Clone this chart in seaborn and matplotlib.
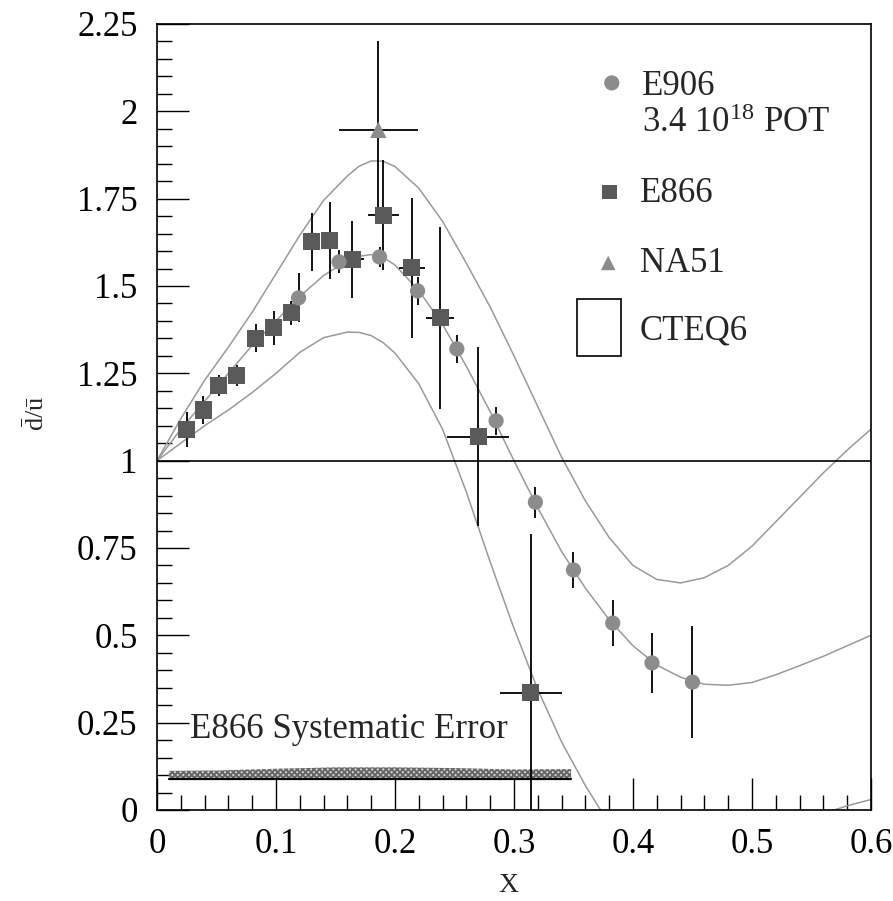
import numpy as np
import pandas as pd
import matplotlib
matplotlib.use('Agg')
import matplotlib.pyplot as plt
import seaborn as sns
from matplotlib.patches import Rectangle
from matplotlib.ticker import MultipleLocator

# E866 (squares)
e866_x = [0.025, 0.039, 0.052, 0.067, 0.083, 0.098, 0.113, 0.130, 0.145, 0.164,
          0.190, 0.214, 0.238, 0.270, 0.314]
e866_y = [1.088, 1.145, 1.214, 1.245, 1.351, 1.380, 1.423, 1.626, 1.629, 1.577,
          1.703, 1.552, 1.409, 1.069, 0.335]
e866_ey = [0.05, 0.04, 0.03, 0.03, 0.04, 0.048, 0.035, 0.084, 0.11, 0.11,
           0.157, 0.20, 0.26, 0.255, 0.455]
e866_ex = [0, 0, 0, 0, 0, 0, 0, 0, 0, 0.01,
           0.013, 0.011, 0.012, 0.026, 0.026]

# E906 projection (circles)
e906_x = [0.119, 0.153, 0.187, 0.219, 0.252, 0.285, 0.318, 0.350, 0.383, 0.416, 0.450]
e906_y = [1.466, 1.569, 1.583, 1.486, 1.320, 1.114, 0.881, 0.687, 0.535, 0.421, 0.366]
e906_ey = [0.07, 0.033, 0.03, 0.04, 0.04, 0.04, 0.045, 0.052, 0.065, 0.087, 0.16]

# NA51 (triangle)
na51_x = [0.186]
na51_y = [1.947]
na51_ey = [0.255]
na51_ex = [0.033]

# CTEQ6 curves
cteq_x = [0.0, 0.02, 0.04, 0.06, 0.08, 0.10, 0.12, 0.14, 0.16, 0.17, 0.18, 0.19, 0.20,
          0.22, 0.24, 0.26, 0.28, 0.30, 0.32, 0.34, 0.36, 0.38, 0.40, 0.42, 0.44,
          0.46, 0.48, 0.50, 0.52, 0.54, 0.56, 0.58, 0.60]
cteq_up = [1.0, 1.12, 1.23, 1.325, 1.425, 1.535, 1.645, 1.745, 1.815, 1.843, 1.858, 1.857,
           1.842, 1.78, 1.685, 1.565, 1.44, 1.30, 1.155, 1.01, 0.885, 0.78, 0.70, 0.66,
           0.65, 0.665, 0.70, 0.755, 0.825, 0.895, 0.965, 1.03, 1.09]
cteq_mid = [1.0, 1.09, 1.17, 1.25, 1.33, 1.40, 1.47, 1.53, 1.572, 1.585, 1.59, 1.582,
            1.56, 1.487, 1.39, 1.27, 1.14, 1.00, 0.865, 0.74, 0.635, 0.545, 0.47, 0.415,
            0.38, 0.36, 0.357, 0.365, 0.387, 0.413, 0.44, 0.47, 0.50]
cteq_lo = [1.0, 1.05, 1.10, 1.145, 1.195, 1.25, 1.31, 1.352, 1.368, 1.367, 1.358, 1.338,
           1.308, 1.22, 1.09, 0.91, 0.71, 0.52, 0.345, 0.195, 0.07, -0.04, -0.12, -0.18,
           -0.21, -0.2, -0.16, -0.11, -0.07, -0.035, -0.01, 0.012, 0.03]

# E866 systematic error band
sys_x = [0.01, 0.05, 0.10, 0.15, 0.20, 0.25, 0.30, 0.348]
sys_lo = [0.088, 0.088, 0.088, 0.088, 0.088, 0.088, 0.088, 0.088]
sys_hi = [0.112, 0.113, 0.118, 0.122, 0.122, 0.120, 0.116, 0.117]

sns.set_theme(style='ticks')
plt.rcParams['font.family'] = ['Liberation Serif', 'DejaVu Serif']
plt.rcParams['mathtext.fontset'] = 'custom'
plt.rcParams['mathtext.rm'] = 'Liberation Serif'
plt.rcParams['mathtext.it'] = 'Liberation Serif:italic'
plt.rcParams['hatch.linewidth'] = 1.4
plt.rcParams['hatch.color'] = '#666666'

c_e906 = '#8c8c8c'
c_e866 = '#5a5a5a'
c_curve = '#9a9a9a'

fig = plt.figure(figsize=(8.93, 9.01), dpi=100)
ax = fig.add_axes([0.1758, 0.1010, 0.7995, 0.8724])

curves = pd.DataFrame({'x': cteq_x, 'up': cteq_up, 'mid': cteq_mid, 'lo': cteq_lo})
for col in ['up', 'mid', 'lo']:
    sns.lineplot(data=curves, x='x', y=col, color=c_curve, lw=1.1, ax=ax, estimator=None)

ax.axhline(1.0, color='black', lw=1.2)

ax.fill_between(sys_x, sys_lo, sys_hi, facecolor='#d8d8d8', edgecolor='#666666',
                hatch='xxxxxx', lw=0)
ax.plot(sys_x, sys_lo, color='black', lw=1.6)
ax.text(0.028, 0.229, 'E866 Systematic Error', fontsize=25, ha='left', va='center')

ax.errorbar(e866_x, e866_y, yerr=e866_ey, xerr=e866_ex, fmt='none', ecolor='black',
            elinewidth=1.3, capsize=0)
ax.errorbar(e906_x, e906_y, yerr=e906_ey, fmt='none', ecolor='black',
            elinewidth=1.3, capsize=0)
ax.errorbar(na51_x, na51_y, yerr=na51_ey, xerr=na51_ex, fmt='none', ecolor='black',
            elinewidth=1.3, capsize=0)

sns.scatterplot(x=e866_x, y=e866_y, marker='s', s=150, color=c_e866, edgecolor='none',
                ax=ax, zorder=3)
sns.scatterplot(x=e906_x, y=e906_y, marker='o', s=120, color=c_e906, edgecolor='none',
                ax=ax, zorder=3)
sns.scatterplot(x=na51_x, y=na51_y, marker='^', s=140, color=c_e906, edgecolor='none',
                ax=ax, zorder=3)

ax.set_xlim(0, 0.6)
ax.set_ylim(0, 2.25)
ax.xaxis.set_major_locator(MultipleLocator(0.1))
ax.xaxis.set_minor_locator(MultipleLocator(0.02))
ax.yaxis.set_major_locator(MultipleLocator(0.25))
ax.yaxis.set_minor_locator(MultipleLocator(0.05))
ax.xaxis.set_major_formatter(plt.FuncFormatter(lambda v, p: f'{v:g}'))
ax.yaxis.set_major_formatter(plt.FuncFormatter(lambda v, p: f'{v:g}'))
ax.tick_params(which='both', direction='in', top=False, right=False, width=1.0,
               color='black', labelsize=25, labelcolor='black')
ax.tick_params(which='major', length=23)
ax.tick_params(which='minor', length=11)
ax.tick_params(axis='x', which='major', pad=13)
ax.tick_params(axis='y', which='major', pad=14)
for sp in ax.spines.values():
    sp.set_linewidth(1.2)
    sp.set_color('black')

ax.set_xlabel('X', fontsize=20)
ax.xaxis.set_label_coords(0.492, -0.080)
ax.set_ylabel(r'$\bar{\mathrm{d}}/\bar{\mathrm{u}}$', fontsize=19)
ax.yaxis.set_label_coords(-0.151, 0.505)

# legend
tr = ax.transAxes
ax.scatter([0.637], [0.925], marker='o', s=120, color=c_e906, edgecolor='none',
           transform=tr, clip_on=False)
ax.text(0.679, 0.9097, 'E906', fontsize=25, transform=tr, va='baseline')
ax.text(0.679, 0.8626, r'3.4 10$^{18}$ POT', fontsize=25, transform=tr, va='baseline')
ax.scatter([0.634], [0.786], marker='s', s=110, color=c_e866, edgecolor='none',
           transform=tr, clip_on=False)
ax.text(0.676, 0.7735, 'E866', fontsize=25, transform=tr, va='baseline')
ax.scatter([0.632], [0.696], marker='^', s=110, color=c_e906, edgecolor='none',
           transform=tr, clip_on=False)
ax.text(0.676, 0.6845, 'NA51', fontsize=25, transform=tr, va='baseline')
ax.add_patch(Rectangle((0.588, 0.5776), 0.062, 0.0724, transform=tr,
                       facecolor='white', edgecolor='black', lw=1.2))
ax.text(0.676, 0.598, 'CTEQ6', fontsize=25, transform=tr, va='baseline')

fig.savefig('out.png', dpi=100, facecolor='white')
